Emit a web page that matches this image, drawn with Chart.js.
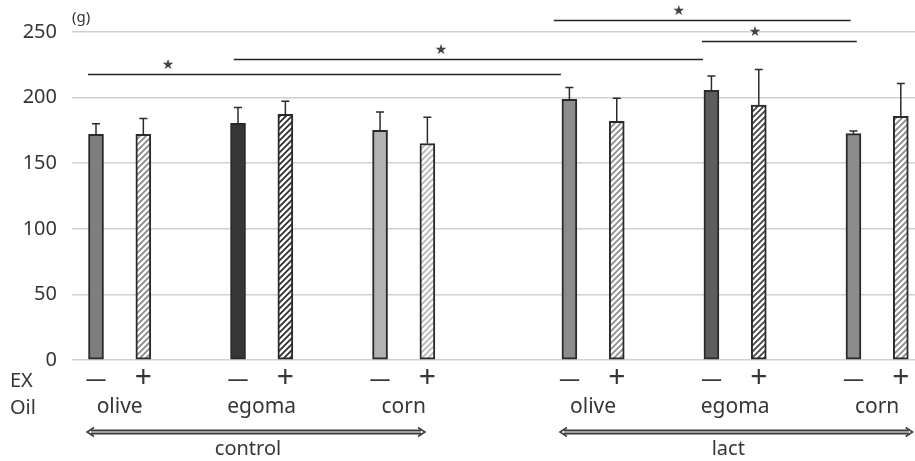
<!DOCTYPE html>
<html>
<head>
<meta charset="utf-8">
<script src="https://cdn.jsdelivr.net/npm/chart.js@4.4.1/dist/chart.umd.min.js"></script>
<style>
  html, body { margin: 0; padding: 0; background: #fff; }
  canvas { display: block; }
</style>
</head>
<body>
<canvas id="weightChart" width="915" height="461"></canvas>
<script>
// bar slots on the x axis (empty slots make the gaps between groups)
const slots = [0, 1, 3, 4, 6, 7, 10, 11, 13, 14, 16, 17];
const exSigns = ['—', '+', '—', '+', '—', '+', '—', '+', '—', '+', '—', '+'];
const means = [172, 172, 180.4, 187.2, 175, 165, 198.7, 182, 205.5, 194.4, 172.5, 185.7];
const errors = [8, 12, 12, 10, 14, 20, 9, 17.5, 11, 27, 2, 25];
const oilNames = ['olive', 'egoma', 'corn', 'olive', 'egoma', 'corn'];
const groupNames = ['control', 'lact'];
const groupFrom = [-0.19, 9.8];
const groupTo = [6.95, 17.25];
const yTicks = [0, 50, 100, 150, 200, 250];

// significance brackets: from slot, to slot, level (g), star slot
const sigFrom = [-0.17, 2.91, 9.67, 12.8];
const sigTo = [9.82, 12.82, 15.94, 16.07];
const sigLevel = [218, 229.2, 258.8, 242.9];
const sigStar = [1.52, 7.29, 12.31, 13.92];

const solidColors = ['#7f7f7f', null, '#363638', null, '#b1b2b4', null,
                     '#8c8c8e', null, '#5d5d5f', null, '#8c8c8e', null];
const hatchColors = [null, '#8a8a8a', null, '#2e2e2e', null, '#b8b8b8',
                     null, '#8f8f8f', null, '#454545', null, '#8a8a8a'];

const canvas = document.getElementById('weightChart');
const ctx = canvas.getContext('2d');

function hatch(color) {
  const c = document.createElement('canvas');
  c.width = 6; c.height = 6;
  const g = c.getContext('2d');
  g.fillStyle = '#fff';
  g.fillRect(0, 0, 6, 6);
  g.strokeStyle = color;
  g.lineWidth = 1.8;
  g.beginPath();
  g.moveTo(-1, 7); g.lineTo(7, -1);
  g.moveTo(-1, 1); g.lineTo(1, -1);
  g.moveTo(5, 7); g.lineTo(7, 5);
  g.stroke();
  return ctx.createPattern(c, 'repeat');
}

const fills = slots.map((s, i) => solidColors[i] ? solidColors[i] : hatch(hatchColors[i]));

const textColor = '#363636';
const sans = "'Noto Sans', sans-serif";

const decor = {
  id: 'decor',
  afterDatasetsDraw(chart) {
    const c = chart.ctx;
    const x = chart.scales.x, y = chart.scales.y;
    const meta = chart.getDatasetMeta(0);
    c.save();

    // error bars (upper only)
    c.strokeStyle = '#2b2b2b';
    c.lineWidth = 1.5;
    meta.data.forEach((bar, i) => {
      const top = y.getPixelForValue(means[i] + errors[i]);
      c.beginPath();
      c.moveTo(bar.x, bar.y);
      c.lineTo(bar.x, top);
      c.moveTo(bar.x - 4, top);
      c.lineTo(bar.x + 4, top);
      c.stroke();
    });

    // significance lines
    c.lineWidth = 1.5;
    c.strokeStyle = '#222';
    c.fillStyle = '#444';
    c.font = "14px 'DejaVu Sans', sans-serif";
    c.textAlign = 'center';
    c.textBaseline = 'middle';
    sigLevel.forEach((lv, i) => {
      const py = Math.round(y.getPixelForValue(lv)) + 0.5;
      c.beginPath();
      c.moveTo(x.getPixelForValue(sigFrom[i]), py);
      c.lineTo(x.getPixelForValue(sigTo[i]), py);
      c.stroke();
      c.fillText('★', x.getPixelForValue(sigStar[i]), py - 9);
    });

    // unit
    c.fillStyle = textColor;
    c.font = "15px " + sans;
    c.textAlign = 'left';
    c.textBaseline = 'alphabetic';
    c.fillText('(g)', 72, 22);

    // EX row
    c.font = "20px " + sans;
    c.fillText('EX', 10, 387);
    c.fillText('Oil', 10, 414);
    c.textAlign = 'center';
    c.textBaseline = 'middle';
    slots.forEach((s, i) => {
      c.font = exSigns[i] === '+' ? "30px " + sans : "21px " + sans;
      c.fillText(exSigns[i], x.getPixelForValue(s), exSigns[i] === '+' ? 378 : 380);
    });

    // oil names
    c.font = "21px " + sans;
    c.textBaseline = 'alphabetic';
    oilNames.forEach((name, k) => {
      const cx = (x.getPixelForValue(slots[2 * k]) + x.getPixelForValue(slots[2 * k + 1])) / 2;
      c.fillText(name, cx, 413);
    });

    // group arrows
    groupNames.forEach((name, k) => {
      const x1 = x.getPixelForValue(groupFrom[k]);
      const x2 = x.getPixelForValue(groupTo[k]);
      const ay = 432;
      c.lineCap = 'butt';
      c.strokeStyle = '#3a3a3a';
      c.lineWidth = 5;
      c.beginPath(); c.moveTo(x1 + 4, ay); c.lineTo(x2 - 4, ay); c.stroke();
      c.strokeStyle = '#a0a0a0';
      c.lineWidth = 2;
      c.beginPath(); c.moveTo(x1 + 4, ay); c.lineTo(x2 - 4, ay); c.stroke();
      c.strokeStyle = '#3a3a3a';
      c.lineWidth = 1.5;
      c.beginPath();
      c.moveTo(x1 + 7, ay - 4.5); c.lineTo(x1, ay); c.lineTo(x1 + 7, ay + 4.5);
      c.moveTo(x2 - 7, ay - 4.5); c.lineTo(x2, ay); c.lineTo(x2 - 7, ay + 4.5);
      c.stroke();
      c.fillStyle = textColor;
      c.font = "20px " + sans;
      c.fillText(name, (x1 + x2) / 2 - 8, 455);
    });

    c.restore();
  }
};

new Chart(canvas, {
  type: 'bar',
  data: {
    datasets: [{
      data: slots.map((s, i) => ({ x: s, y: means[i] })),
      backgroundColor: fills,
      borderColor: '#2a2a2a',
      borderWidth: 2,
      borderSkipped: false,
      barThickness: 15
    }]
  },
  options: {
    responsive: false,
    animation: false,
    layout: { padding: { left: 0, right: 0, top: 0, bottom: 101 } },
    plugins: { legend: { display: false }, tooltip: { enabled: false } },
    scales: {
      x: {
        type: 'linear',
        offset: false,
        min: -0.507,
        max: 17.3,
        display: false
      },
      y: {
        min: 0,
        max: 274.4,
        afterBuildTicks: axis => { axis.ticks = yTicks.map(v => ({ value: v })); },
        afterFit: axis => {
          axis.width = 72;
          axis.paddingTop = 0;
          axis.paddingBottom = 0;
        },
        border: { display: false },
        grid: { color: '#d0d0d0', lineWidth: 1.5, drawTicks: false },
        ticks: {
          padding: 15,
          color: textColor,
          font: { family: 'Noto Sans', size: 20 }
        }
      }
    }
  },
  plugins: [decor]
});
</script>
</body>
</html>
